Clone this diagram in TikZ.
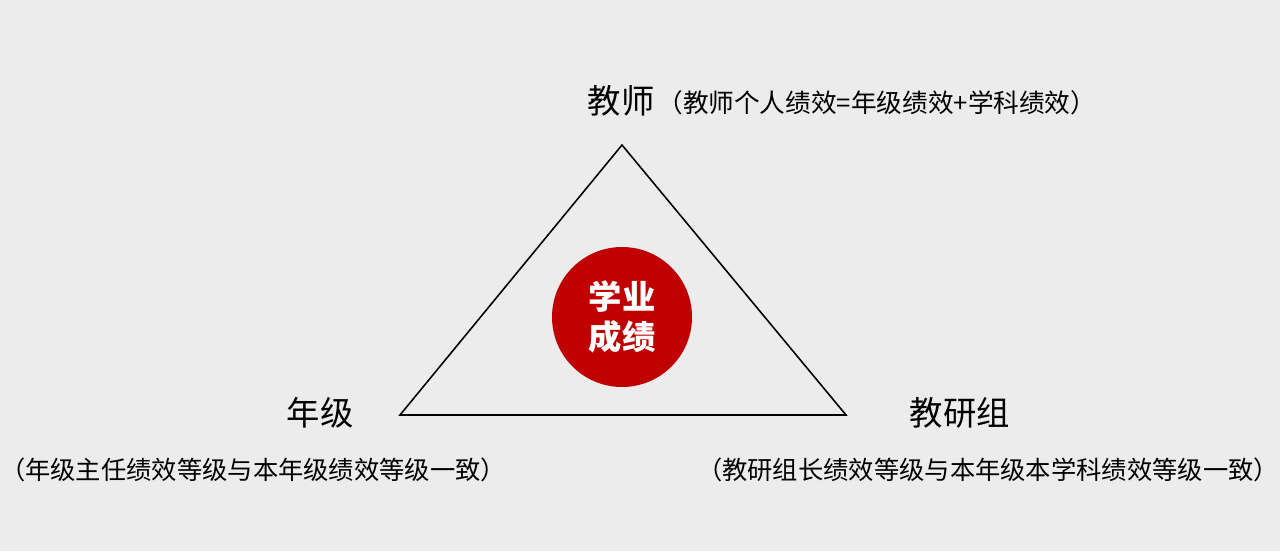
\documentclass[tikz,border=0pt]{standalone}
\usepackage{fontspec}
\usepackage{xcolor}
\setmainfont{Noto Sans CJK SC}
\definecolor{bg}{HTML}{ECECEC}
\definecolor{dred}{HTML}{C00000}
\begin{document}
\begin{tikzpicture}[x=0.02cm, y=-0.02cm, inner sep=0pt]

    \fill [bg] (0, 0) rectangle (1280, 551);
    \useasboundingbox (0, 0) rectangle (1280, 551);

    \coordinate (a) at (622, 145);
    \coordinate (b) at (400, 415);
    \coordinate (c) at (846, 415);
    \node (d) at (621, 101) {\fontsize{19}{19}\selectfont 教师};
    \node [anchor=west] (e) at (657, 103) {\fontsize{14.6}{15}\selectfont （教师个人绩效=年级绩效+学科绩效）};
    \node (f) at (320, 413) {\fontsize{19}{19}\selectfont 年级};
    \node (g) at (960, 413) {\fontsize{19}{19}\selectfont 教研组};
    \node (h) at (253, 470) {\fontsize{14.4}{15}\selectfont （年级主任绩效等级与本年级绩效等级一致）};
    \node (i) at (988, 470) {\fontsize{14.4}{15}\selectfont （教研组长绩效等级与本年级本学科绩效等级一致）};
    \node [circle, fill=dred, minimum size=140*0.02cm, text=white, align=center,
           font=\fontsize{19}{23}\selectfont\bfseries] (j) at (622, 317) {学业\\成绩};

    \draw [line width=0.9pt] (a) -- (b) -- (c) -- cycle;

  \end{tikzpicture}
\end{document}
